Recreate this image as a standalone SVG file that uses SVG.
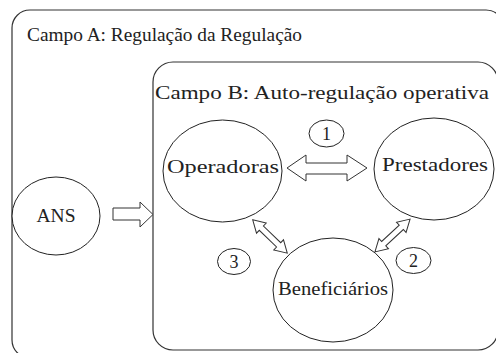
<svg xmlns="http://www.w3.org/2000/svg" width="496" height="353" viewBox="0 0 496 353">
<style>
.box{fill:none;stroke:#333;stroke-width:1.2}
.el{fill:#fff;stroke:#222;stroke-width:1}
.arr{fill:#fff;stroke:#333;stroke-width:1}
text{fill:#222}
.lbl{font-size:19px;text-anchor:middle}
.num{font-size:18px;text-anchor:middle}
.title{font-size:19px}
</style>
<rect width="496" height="353" fill="#fff"/>
<g font-family="'Liberation Serif', 'DejaVu Serif', serif">
<g id="campoA">
<rect class="box" x="12" y="10" width="492" height="348" rx="18"/>
<text class="title" x="27" y="41" textLength="275" lengthAdjust="spacingAndGlyphs">Campo A: Regulação da Regulação</text>
</g>
<g id="campoB">
<rect class="box" x="153" y="62" width="345" height="288" rx="20"/>
<text class="title" x="155" y="99" textLength="334" lengthAdjust="spacingAndGlyphs">Campo B: Auto-regulação operativa</text>
</g>
<g id="connectors">
<polygon class="arr" points="113,208 140,208 140,202 153,214.5 140,227 140,220 113,220"/>
<polygon class="arr" points="287,168 306,155 306,163 347,163 347,155 367,168 347,181 347,174 306,174 306,181"/>
<polygon class="arr" transform="translate(270,236.5) rotate(44)" points="-24,0 -12,-7 -12,-3 12,-3 12,-7 24,0 12,7 12,3 -12,3 -12,7"/>
<polygon class="arr" transform="translate(392.5,235.5) rotate(-43)" points="-24,0 -12,-7 -12,-3 12,-3 12,-7 24,0 12,7 12,3 -12,3 -12,7"/>
</g>
<g id="ANS">
<ellipse class="el" cx="56" cy="216" rx="44" ry="39"/>
<text class="lbl" x="56" y="222" textLength="39" lengthAdjust="spacingAndGlyphs">ANS</text>
</g>
<g id="Operadoras">
<ellipse class="el" cx="222.5" cy="171" rx="59.5" ry="51"/>
<text class="lbl" x="223" y="173" textLength="112" lengthAdjust="spacingAndGlyphs">Operadoras</text>
</g>
<g id="Prestadores">
<ellipse class="el" cx="434" cy="169" rx="60" ry="51"/>
<text class="lbl" x="435" y="171" textLength="106" lengthAdjust="spacingAndGlyphs">Prestadores</text>
</g>
<g id="Beneficiarios">
<ellipse class="el" cx="333" cy="290" rx="60" ry="52"/>
<text class="lbl" x="333" y="295" textLength="110" lengthAdjust="spacingAndGlyphs">Beneficiários</text>
</g>
<g id="n1">
<ellipse class="el" cx="326.5" cy="133.5" rx="17.5" ry="13.5"/>
<text class="num" x="326.5" y="140">1</text>
</g>
<g id="n2">
<ellipse class="el" cx="413.5" cy="260.5" rx="17.5" ry="13"/>
<text class="num" x="413.5" y="267">2</text>
</g>
<g id="n3">
<ellipse class="el" cx="234" cy="261.5" rx="16.5" ry="13"/>
<text class="num" x="234" y="268">3</text>
</g>
</g>
</svg>
